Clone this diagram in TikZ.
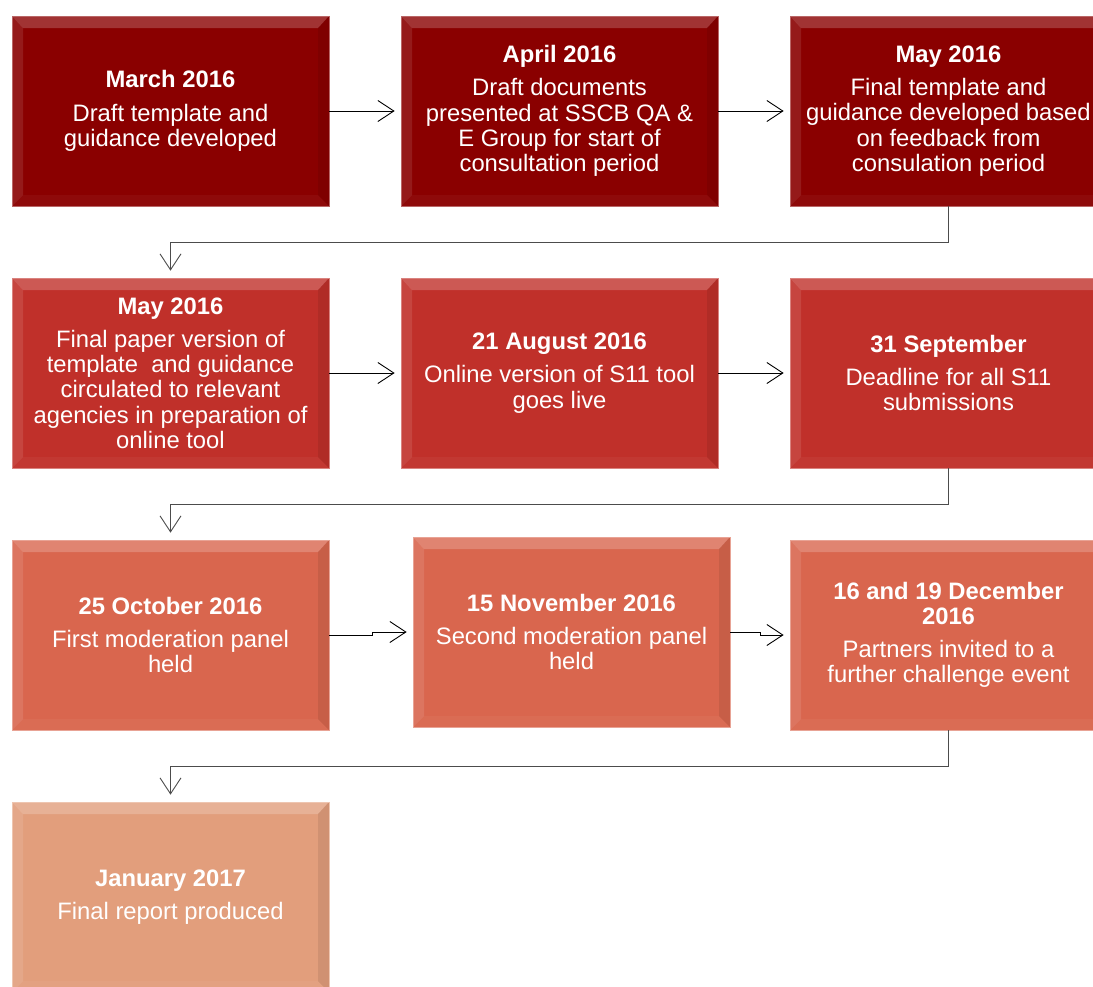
\documentclass[tikz,border=0pt]{standalone}
\usepackage{fontspec}
\setmainfont{Liberation Sans}
\usetikzlibrary{arrows.meta}
\definecolor{rowA}{HTML}{8A0000}
\definecolor{rowB}{HTML}{C0302A}
\definecolor{rowC}{HTML}{D9664E}
\definecolor{rowD}{HTML}{E29E7C}
\newcommand\boxfont{\fontsize{23.8}{25.2}\selectfont}
\tikzset{
  stagebox/.style={rectangle, fill=#1, draw=#1!60!white, line width=0.7pt,
    minimum width=317pt, minimum height=190pt, inner sep=0pt,
    text=white, align=center, font=\boxfont,
    path picture={
      \fill[white, opacity=0.20] (path picture bounding box.north west) -- (path picture bounding box.north east)
        -- ([shift={(-11pt,-12pt)}]path picture bounding box.north east) -- ([shift={(11pt,-12pt)}]path picture bounding box.north west) -- cycle;
      \fill[white, opacity=0.10] (path picture bounding box.north west) -- ([shift={(11pt,-12pt)}]path picture bounding box.north west)
        -- ([shift={(11pt,11pt)}]path picture bounding box.south west) -- (path picture bounding box.south west) -- cycle;
      \fill[black, opacity=0.08] (path picture bounding box.north east) -- ([shift={(-11pt,-12pt)}]path picture bounding box.north east)
        -- ([shift={(-11pt,11pt)}]path picture bounding box.south east) -- (path picture bounding box.south east) -- cycle;
      \fill[white, opacity=0.04] (path picture bounding box.south west) -- ([shift={(11pt,11pt)}]path picture bounding box.south west)
        -- ([shift={(-11pt,11pt)}]path picture bounding box.south east) -- (path picture bounding box.south east) -- cycle;
    }},
  flowarrow/.style={draw=black, line width=0.9pt, shorten >=6pt,
    -{Straight Barb[length=16pt,width=21pt,line width=0.9pt]}},
  elbowarrow/.style={draw=black!70, line width=0.9pt, shorten >=7pt,
    -{Straight Barb[length=16pt,width=21pt,line width=0.9pt]}}
}
\begin{document}
\begin{tikzpicture}[x=1pt, y=-1pt]
\useasboundingbox (0,0) rectangle (1093,986);
\clip (0,0) rectangle (1093,986);

% Row 1
\node[stagebox=rowA] (n1) at (170.5,111) {\textbf{March 2016}\\[8pt]Draft template and\\guidance developed};
\node[stagebox=rowA] (n2) at (559.5,111) {\textbf{April 2016}\\[8pt]Draft documents\\presented at SSCB QA \&\\E Group for start of\\consultation period};
\node[stagebox=rowA] (n3) at (948.5,111) {\textbf{May 2016}\\[8pt]Final template and\\guidance developed based\\on feedback from\\consulation period};

% Row 2
\node[stagebox=rowB] (n4) at (170.5,373) {\textbf{May 2016}\\[8pt]Final paper version of\\template\ \ and guidance\\circulated to relevant\\agencies in preparation of\\online tool};
\node[stagebox=rowB] (n5) at (559.5,373) {\textbf{21 August 2016}\\[8pt]Online version of S11 tool\\goes live};
\node[stagebox=rowB] (n6) at (948.5,373) {\textbf{31 September}\\[8pt]Deadline for all S11\\submissions};

% Row 3
\node[stagebox=rowC] (n7) at (170.5,635) {\textbf{25 October 2016}\\[8pt]First moderation panel\\held};
\node[stagebox=rowC] (n8) at (571.5,632) {\textbf{15 November 2016}\\[8pt]Second moderation panel\\held};
\node[stagebox=rowC] (n9) at (948.5,635) {\textbf{16 and 19 December}\\\textbf{2016}\\[8pt]Partners invited to a\\further challenge event};

% Row 4
\node[stagebox=rowD] (n10) at (170.5,897) {\textbf{January 2017}\\[8pt]Final report produced};

% Horizontal connectors
\draw[flowarrow] (n1.east) -- (n2.west);
\draw[flowarrow] (n2.east) -- (n3.west);
\draw[flowarrow] (n4.east) -- (n5.west);
\draw[flowarrow] (n5.east) -- (n6.west);
\draw[flowarrow] (n7.east) -- ++(43,0) |- (n8.west);
\draw[flowarrow] (n8.east) -- ++(30,0) |- (n9.west);

% Elbow connectors
\draw[elbowarrow] (n3.south) -- ++(0,36) -| (n4.north);
\draw[elbowarrow] (n6.south) -- ++(0,36) -| (n7.north);
\draw[elbowarrow] (n9.south) -- ++(0,36) -| (n10.north);
\end{tikzpicture}
\end{document}
